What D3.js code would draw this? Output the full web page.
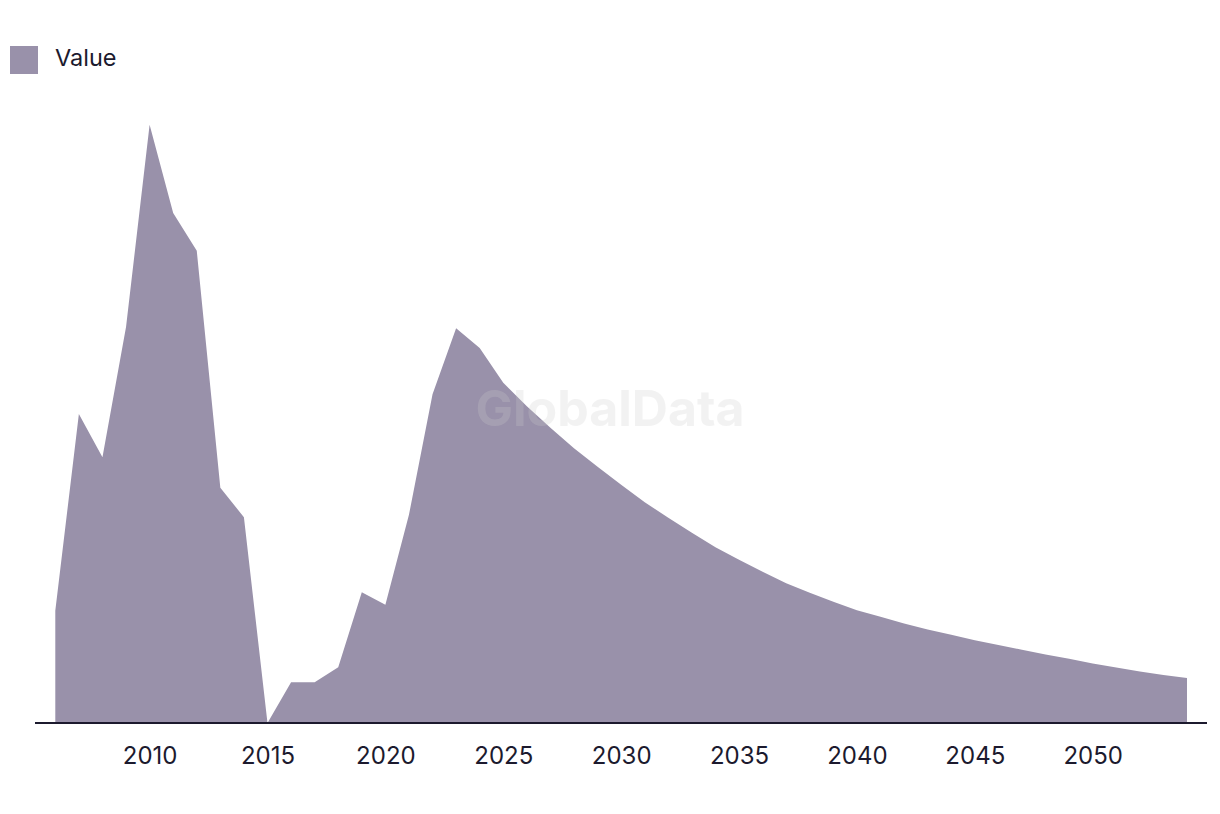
<!DOCTYPE html>
<html>
<head>
<meta charset="utf-8">
<script src="https://cdn.jsdelivr.net/npm/d3@7"></script>
<style>
    body { margin: 0; background: #fff; }
    text { font-family: Inter, Roboto, "Noto Sans", sans-serif; }
</style>
</head>
<body>
<div id="chart"></div>
<script>
// Data (no y axis shown, arbitrary units)
var years = d3.range(2006, 2055);
var values = [
    18.7, 51.5, 44.3, 66.0, 99.7, 85.0, 78.7, 39.2, 34.3, 0,
    6.8, 6.8, 9.3, 21.8, 19.7, 34.7, 54.8, 65.8, 62.5, 56.7,
    52.8, 49.2, 45.8, 42.7, 39.7, 36.8, 34.2, 31.7, 29.3, 27.2,
    25.2, 23.3, 21.7, 20.2, 18.8, 17.7, 16.6, 15.6, 14.7, 13.8,
    13.0, 12.2, 11.4, 10.7, 9.9, 9.25, 8.6, 8.0, 7.5
];
var tickYears = [2010, 2015, 2020, 2025, 2030, 2035, 2040, 2045, 2050];
var seriesName = 'Value';

var width = 1220,
    height = 814,
    fill = '#9991aa',
    ink = '#1c1a2e';

var data = years.map(function(y, i) {
    return { year: y, value: values[i] };
});

var svg = d3.select('#chart').append('svg')
    .attr('width', width)
    .attr('height', height);

var xScale = d3.scaleLinear()
    .domain([2006, 2054])
    .range([55.3, 1187]);

var yScale = d3.scaleLinear()
    .domain([0, 100])
    .range([723, 123]);

var area = d3.area()
    .x(function(d) { return xScale(d.year); })
    .y0(yScale(0))
    .y1(function(d) { return yScale(d.value); });

svg.append('path')
    .datum(data)
    .attr('d', area)
    .attr('fill', fill);

// watermark sits on top of the area
svg.append('text')
    .attr('x', 610)
    .attr('y', 426)
    .attr('text-anchor', 'middle')
    .attr('font-size', 50)
    .attr('font-weight', 700)
    .attr('fill', '#cbcbcb')
    .attr('fill-opacity', 0.25)
    .text('GlobalData');

// x axis
var xAxis = d3.axisBottom(xScale)
    .tickValues(tickYears)
    .tickFormat(d3.format('d'))
    .tickSize(0)
    .tickPadding(24);

var axisG = svg.append('g')
    .attr('class', 'axis x')
    .attr('transform', 'translate(0,' + yScale(0) + ')')
    .call(xAxis);

axisG.select('.domain').remove();
axisG.append('line')
    .attr('x1', 35)
    .attr('x2', 1207)
    .attr('stroke', ink)
    .attr('stroke-width', 2);

axisG.selectAll('.tick text')
    .attr('font-size', 24)
    .attr('font-family', 'Inter, Roboto, sans-serif')
    .attr('fill', ink);

// legend
var legend = svg.append('g').attr('class', 'legend');
legend.append('rect')
    .attr('x', 10)
    .attr('y', 46)
    .attr('width', 28)
    .attr('height', 28)
    .attr('fill', fill);
legend.append('text')
    .attr('x', 55)
    .attr('y', 66)
    .attr('font-size', 23.5)
    .attr('fill', ink)
    .text(seriesName);
</script>
</body>
</html>
